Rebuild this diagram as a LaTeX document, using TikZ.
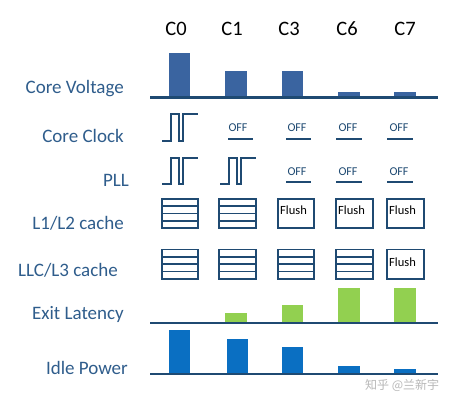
\documentclass[tikz,border=0pt]{standalone}
\usepackage{fontspec}
\setmainfont{Carlito}
\newfontfamily\cjk{Noto Sans CJK SC}
\definecolor{lbl}{HTML}{2F5D8C}
\definecolor{navy}{HTML}{1F4A72}
\definecolor{vbar}{HTML}{3A64A0}
\definecolor{pbar}{HTML}{0A6FC2}
\definecolor{gbar}{HTML}{92D050}
\definecolor{wm}{HTML}{B8B8B8}
\begin{document}
\begin{tikzpicture}[x=1pt,y=-1pt,
  rowlabel/.style={anchor=east,text=lbl,font=\fontsize{19}{22}\selectfont,inner sep=0pt},
  colhead/.style={anchor=center,font=\fontsize{20.5}{24}\selectfont,inner sep=0pt},
  axis/.style={draw=navy,line width=2.6pt},
  wave/.style={draw=navy,line width=1.6pt},
  offlbl/.style={font=\fontsize{12}{14}\selectfont,text=navy,inner sep=0pt},
  offline/.style={draw=navy,line width=1.6pt},
  cachebox/.style={draw=navy,line width=1.7pt},
  flushtxt/.style={font=\fontsize{12.5}{14}\selectfont,anchor=west,inner sep=0pt}]
\useasboundingbox (0,0) rectangle (461,403);
\fill[white] (0,0) rectangle (461,403);
% column headers
\node[colhead] (h0) at (176,29) {C0};
\node[colhead] (h1) at (232,29) {C1};
\node[colhead] (h3) at (289,29) {C3};
\node[colhead] (h6) at (347,29) {C6};
\node[colhead] (h7) at (405,29) {C7};
% row labels
\node[rowlabel] (lv) at (124,89) {Core Voltage};
\node[rowlabel] (lc) at (124,136) {Core Clock};
\node[rowlabel] (lp) at (129,180) {PLL};
\node[rowlabel] (l12) at (124,223) {L1/L2 cache};
\node[rowlabel] (l3) at (118,270) {LLC/L3 cache};
\node[rowlabel] (le) at (124,314) {Exit Latency};
\node[rowlabel] (li) at (128,368) {Idle Power};
% core voltage bars
\fill[vbar] (169,53) rectangle (190,97);
\fill[vbar] (225,71) rectangle (247,97);
\fill[vbar] (282,71) rectangle (303,97);
\fill[vbar] (338,92) rectangle (360,97);
\fill[vbar] (394,92) rectangle (416,97);
\draw[axis] (150,97.5) -- (438,97.5);
% core clock
\draw[wave] (162,141) -- (171,141) -- (171,114) -- (179,114) -- (179,141) -- (183,141) -- (183,114) -- (198,114);
\foreach \cx/\a/\b in {238/228/253, 297/286/311, 348/336/362, 399/387/413}{
  \node[offlbl] at (\cx,128) {OFF};
  \draw[offline] (\a,139) -- (\b,139);
}
% PLL
\draw[wave] (162,184) -- (171,184) -- (171,158) -- (179,158) -- (179,184) -- (183,184) -- (183,158) -- (198,158);
\draw[wave] (220,184) -- (229,184) -- (229,158) -- (237,158) -- (237,184) -- (241,184) -- (241,158) -- (256,158);
\foreach \cx/\a/\b in {297/286/311, 348/336/362, 399/387/413}{
  \node[offlbl] at (\cx,172) {OFF};
  \draw[offline] (\a,182) -- (\b,182);
}
% L1/L2 cache
\foreach \a/\b in {162/198, 219/256}{
  \draw[cachebox] (\a,199) rectangle (\b,228);
  \draw[cachebox] (\a,206.25) -- (\b,206.25) (\a,213.5) -- (\b,213.5) (\a,220.75) -- (\b,220.75);
}
\foreach \a/\b in {278/314, 336/373, 387/424}{
  \draw[cachebox] (\a,199) rectangle (\b,228);
  \node[flushtxt] at (\a+2,210) {Flush};
}
% LLC/L3 cache
\foreach \a/\b in {162/198, 219/256, 278/314, 336/373}{
  \draw[cachebox] (\a,249.5) rectangle (\b,279);
  \draw[cachebox] (\a,256.9) -- (\b,256.9) (\a,264.25) -- (\b,264.25) (\a,271.6) -- (\b,271.6);
}
\draw[cachebox] (387,249.5) rectangle (424,279);
\node[flushtxt] at (389,262) {Flush};
% exit latency
\fill[gbar] (225,313) rectangle (247,323);
\fill[gbar] (282,305) rectangle (303,323);
\fill[gbar] (338,288) rectangle (360,323);
\fill[gbar] (394,288) rectangle (416,323);
\draw[axis] (150,323) -- (438,323);
% idle power
\fill[pbar] (169,330) rectangle (190,374);
\fill[pbar] (227,339) rectangle (248,374);
\fill[pbar] (282,347) rectangle (303,374);
\fill[pbar] (338,366) rectangle (360,374);
\fill[pbar] (394,369) rectangle (416,374);
\draw[axis] (150,374) -- (438,374);
% watermark
\node[anchor=west,inner sep=0pt,text=wm,font=\cjk\fontsize{12}{14}\selectfont] (wmk) at (365,385) {知乎 @兰新宇};
\end{tikzpicture}
\end{document}
